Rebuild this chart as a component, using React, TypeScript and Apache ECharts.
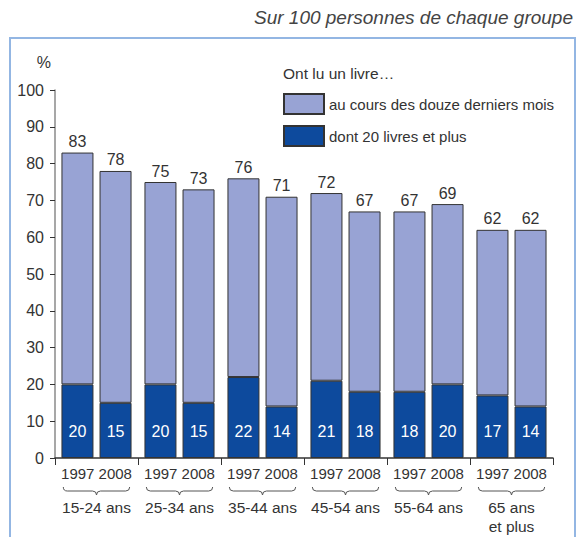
import React, { useEffect, useRef } from "react";
import * as echarts from "echarts";

const categories = ["15-24 ans", "25-34 ans", "35-44 ans", "45-54 ans", "55-64 ans", "65 ans\net plus"];
const years = ["1997", "2008"];
const total1997 = [83, 75, 76, 72, 67, 62];
const total2008 = [78, 73, 71, 67, 69, 62];
const heavy1997 = [20, 20, 22, 21, 18, 17];
const heavy2008 = [15, 15, 14, 18, 20, 14];
const seriesNames = ["au cours des douze derniers mois", "dont 20 livres et plus"];

const FONT = "'Liberation Sans', Arial, sans-serif";
const LIGHT = "#98a3d4";
const DARK = "#0d4a9d";
const TEXT = "#333333";

export default function App() {
  const ref = useRef<HTMLDivElement>(null);
  useEffect(() => {
    if (!ref.current) return;
    const chart = echarts.init(ref.current, null, { renderer: "svg" });
    const rest1997 = total1997.map((t, i) => t - heavy1997[i]);
    const rest2008 = total2008.map((t, i) => t - heavy2008[i]);
    const barCommon = {
      type: "bar",
      barWidth: 32,
      barGap: "19%",
    };
    const border = { borderColor: "#333", borderWidth: 1 };
    const darkLabel = {
      show: true,
      position: "insideBottom",
      distance: 19,
      color: "#ffffff",
      fontSize: 16,
      fontFamily: FONT,
    };
    const topLabel = (totals: number[]) => ({
      show: true,
      position: "top",
      distance: 3,
      color: TEXT,
      fontSize: 16,
      fontFamily: FONT,
      formatter: (p: any) => String(totals[p.dataIndex]),
    });
    chart.setOption({
      animation: false,
      textStyle: { fontFamily: FONT },
      graphic: [
        {
          type: "rect",
          shape: { x: 10, y: 38, width: 565, height: 520 },
          style: { fill: "none", stroke: "#93b6e3", lineWidth: 2 },
          silent: true,
        },
      ],
      title: [
        {
          text: "Sur 100 personnes de chaque groupe",
          right: 3,
          top: 8,
          padding: 0,
          textStyle: {
            fontFamily: FONT,
            fontStyle: "italic",
            fontWeight: "normal",
            fontSize: 19,
            color: "#444",
          },
        },
        {
          text: "Ont lu un livre…",
          left: 283,
          top: 65,
          padding: 0,
          textStyle: { fontFamily: FONT, fontWeight: "normal", fontSize: 15.5, color: TEXT },
        },
      ],
      legend: {
        data: seriesNames,
        orient: "vertical",
        left: 283,
        top: 93,
        padding: 0,
        itemWidth: 40,
        itemHeight: 20,
        itemGap: 10,
        icon: "rect",
        textStyle: { fontFamily: FONT, fontSize: 15, color: TEXT },
        selectedMode: false,
      },
      grid: { left: 55, right: 23, top: 90, bottom: 79, containLabel: false },
      xAxis: {
        type: "category",
        data: categories,
        axisLine: { lineStyle: { color: "#333", width: 1.5 } },
        axisTick: { show: true, length: 7, lineStyle: { color: "#333" } },
        axisLabel: {
          margin: 7,
          interval: 0,
          formatter: (v: string) =>
            `{y|${years[0]} ${years[1]}}\n{s| }\n` + v.split("\n").map((l) => `{g|${l}}`).join("\n"),
          rich: {
            y: { fontSize: 15, lineHeight: 17, color: TEXT, fontFamily: FONT },
            s: { fontSize: 10, lineHeight: 16 },
            g: { fontSize: 15.5, lineHeight: 19, color: TEXT, fontFamily: FONT },
          },
        },
      },
      yAxis: {
        type: "value",
        min: 0,
        max: 100,
        interval: 10,
        name: "%",
        nameLocation: "end",
        nameGap: 20,
        nameTextStyle: { fontSize: 16, color: TEXT, fontFamily: FONT, align: "right", padding: [0, 4, 0, 0] },
        axisLine: { show: true, lineStyle: { color: "#8a8a8a", width: 1.5 } },
        axisTick: { show: true, length: 5, lineStyle: { color: "#333" } },
        axisLabel: { fontSize: 16, color: TEXT, margin: 11, fontFamily: FONT },
        splitLine: { show: false },
      },
      series: [
        { ...barCommon, name: seriesNames[1], stack: "a", data: heavy1997, itemStyle: { ...border, color: DARK }, label: darkLabel },
        { ...barCommon, name: seriesNames[0], stack: "a", data: rest1997, itemStyle: { ...border, color: LIGHT }, label: topLabel(total1997) },
        { ...barCommon, name: seriesNames[1], stack: "b", data: heavy2008, itemStyle: { ...border, color: DARK }, label: darkLabel },
        { ...barCommon, name: seriesNames[0], stack: "b", data: rest2008, itemStyle: { ...border, color: LIGHT }, label: topLabel(total2008) },
        {
          type: "custom",
          name: "braces",
          coordinateSystem: "cartesian2d",
          clip: false,
          silent: true,
          z: 10,
          data: categories.map((_, i) => [i, 0]),
          encode: { x: 0, y: 1 },
          renderItem: (params: any, api: any) => {
            const p = api.coord([api.value(0), 0]);
            const w = api.size([1, 0])[0] * 0.4;
            const cx = p[0];
            const yt = p[1] + 29;
            const r = 4;
            const st = { fill: null, stroke: "#555", lineWidth: 1 };
            return {
              type: "group",
              children: [
                { type: "bezierCurve", shape: { x1: cx - w, y1: yt, cpx1: cx - w, cpy1: yt + r, x2: cx - w + r, y2: yt + r }, style: st },
                { type: "line", shape: { x1: cx - w + r, y1: yt + r, x2: cx - r, y2: yt + r }, style: st },
                { type: "bezierCurve", shape: { x1: cx - r, y1: yt + r, cpx1: cx, cpy1: yt + r, x2: cx, y2: yt + 2 * r }, style: st },
                { type: "bezierCurve", shape: { x1: cx, y1: yt + 2 * r, cpx1: cx, cpy1: yt + r, x2: cx + r, y2: yt + r }, style: st },
                { type: "line", shape: { x1: cx + r, y1: yt + r, x2: cx + w - r, y2: yt + r }, style: st },
                { type: "bezierCurve", shape: { x1: cx + w - r, y1: yt + r, cpx1: cx + w, cpy1: yt + r, x2: cx + w, y2: yt }, style: st },
              ],
            };
          },
        },
      ],
    });
    return () => chart.dispose();
  }, []);
  return (
    <div
      ref={ref}
      style={{ position: "fixed", left: 0, top: 0, width: 576, height: 537, background: "#fff" }}
    />
  );
}
